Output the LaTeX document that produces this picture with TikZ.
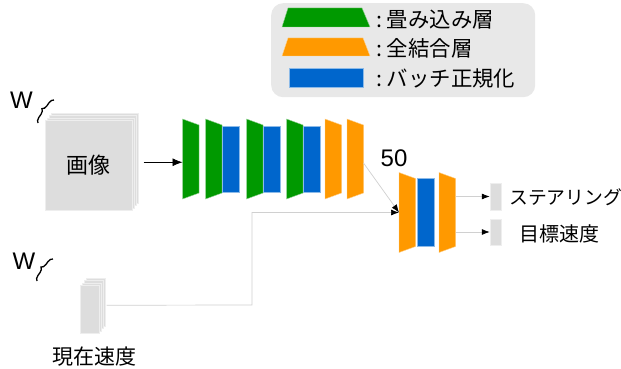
\documentclass[tikz,border=0pt]{standalone}
\usepackage{fontspec}
\setmainfont{Liberation Sans}
\newfontfamily\jp{Noto Sans CJK JP}
\usetikzlibrary{arrows.meta,decorations.pathreplacing}
\definecolor{cgreen}{HTML}{009900}
\definecolor{corange}{HTML}{FF9900}
\definecolor{cblue}{HTML}{0066CC}
\definecolor{cbox}{HTML}{DDDDDD}
\definecolor{cline}{HTML}{D0D0D0}
\definecolor{clegend}{HTML}{E8E8E8}
\begin{document}
\begin{tikzpicture}[x=1pt,y=-1pt,
  trap/.style={fill=#1, draw=white!55!#1, line width=0.4pt},
  bn/.style={fill=cblue, draw=white!55!cblue, line width=0.4pt, inner sep=0pt, anchor=west},
  conn/.style={draw=cline, line width=0.7pt, -{Latex[black,length=8pt,width=6pt]}},
  card/.style={fill=cbox, draw=white!50!cbox, line width=0.5pt},
  jplabel/.style={font=\jp\fontsize{21.4}{24}\selectfont, inner sep=0pt},
  latlabel/.style={font=\fontsize{24}{28}\selectfont, inner sep=0pt},
  wbrace/.style={decorate, decoration={brace, amplitude=5pt}, line width=1.3pt},
  pics/trl/.style={code={
    \path[trap=#1] (0,-40) -- (16.5,-34) -- (16.5,34) -- (0,40) -- cycle;
    \coordinate (-w) at (0,0);
    \coordinate (-e) at (16.5,0);}},
]
\fill[white] (0,0) rectangle (621,369);
\useasboundingbox (0,0) rectangle (621,369);

% legend
\node[fill=clegend, rounded corners=12pt, minimum width=264pt, minimum height=94pt,
      inner sep=0pt, anchor=north west] (legend) at (271,3) {};
\path[trap=cgreen] (288,8) -- (362,8) -- (370,27) -- (282,27) -- cycle;
\path[trap=corange] (288,38) -- (363,38) -- (370,56) -- (282,56) -- cycle;
\node[bn, minimum width=74pt, minimum height=19pt] (legbn) at (289,77.5) {};
\node[jplabel, anchor=west] (leg1) at (376,20) {:\ 畳み込み層};
\node[jplabel, anchor=west] (leg2) at (376,48) {:\ 全結合層};
\node[jplabel, anchor=west] (leg3) at (376,78) {:\ バッチ正規化};

% image input stack
\foreach \d in {3,2,1} \path[card] (45+2.2*\d,120-2.2*\d) rectangle ++(87,90);
\node[card, minimum width=87pt, minimum height=90pt, inner sep=0pt, anchor=north west,
      font=\jp\fontsize{22}{24}\selectfont] (img) at (45,120) {画像};
\node[latlabel] (w1) at (21.5,100) {W};
\coordinate (br1a) at (38,123);
\coordinate (br1b) at (54,100);
\draw[wbrace] (br1a) -- (br1b);

% speed input stack
\foreach \d in {3,2,1} \path[card] (80+2.2*\d,285-2.2*\d) rectangle ++(19,48);
\node[card, minimum width=19pt, minimum height=48pt, inner sep=0pt, anchor=north west] (spd) at (80,285) {};
\node[jplabel, font=\jp\fontsize{21}{24}\selectfont] (spdlab) at (94,357) {現在速度};
\node[latlabel] (w2) at (24,261) {W};
\coordinate (br2a) at (37,281);
\coordinate (br2b) at (53,259);
\draw[wbrace] (br2a) -- (br2b);

% main network
\pic (g1) at (182.5,159) {trl=cgreen};
\pic (g2) at (205.5,159) {trl=cgreen};
\node[bn, minimum width=17pt, minimum height=66pt] (b1) at (222,159) {};
\pic (g3) at (246.5,159) {trl=cgreen};
\node[bn, minimum width=17pt, minimum height=66pt] (b2) at (263,159) {};
\pic (g4) at (286.5,159) {trl=cgreen};
\node[bn, minimum width=17pt, minimum height=66pt] (b3) at (303,159) {};
\pic (o1) at (325,159) {trl=corange};
\pic (o2) at (347,159) {trl=corange};

% head
\pic (o3) at (399,212.5) {trl=corange};
\node[bn, minimum width=17pt, minimum height=68pt] (b4) at (417,212.5) {};
\pic (o4) at (439,212.5) {trl=corange};
\node[latlabel] (n50) at (394,158) {50};

% outputs
\node[card, minimum width=11pt, minimum height=27pt, inner sep=0pt] (out1) at (495.5,196.5) {};
\node[card, minimum width=11pt, minimum height=26pt, inner sep=0pt] (out2) at (495.5,232) {};
\node[jplabel, anchor=west, font=\jp\fontsize{18.8}{20}\selectfont] (lab1) at (509,197) {ステアリング};
\node[jplabel, anchor=west, font=\jp\fontsize{20}{22}\selectfont] (lab2) at (519,234) {目標速度};

% connectors
\coordinate (imgout) at ([xshift=11pt,yshift=3pt]img.east);
\draw[line width=0.7pt, -{Latex[length=10pt,width=8pt]}] (imgout) -- (imgout -| g1-w);
\draw[conn] ([yshift=-4pt]o2-e) -- (o3-w);
\coordinate (spdout) at ([xshift=7pt,yshift=4pt]spd.east);
\coordinate (bend) at (252,305);
\draw[conn] (spdout) -- (bend) |- (o3-w);
\draw[conn] (o4-e |- out1.west) -- (out1.west);
\draw[conn] (o4-e |- out2.west) -- (out2.west);
\end{tikzpicture}
\end{document}
